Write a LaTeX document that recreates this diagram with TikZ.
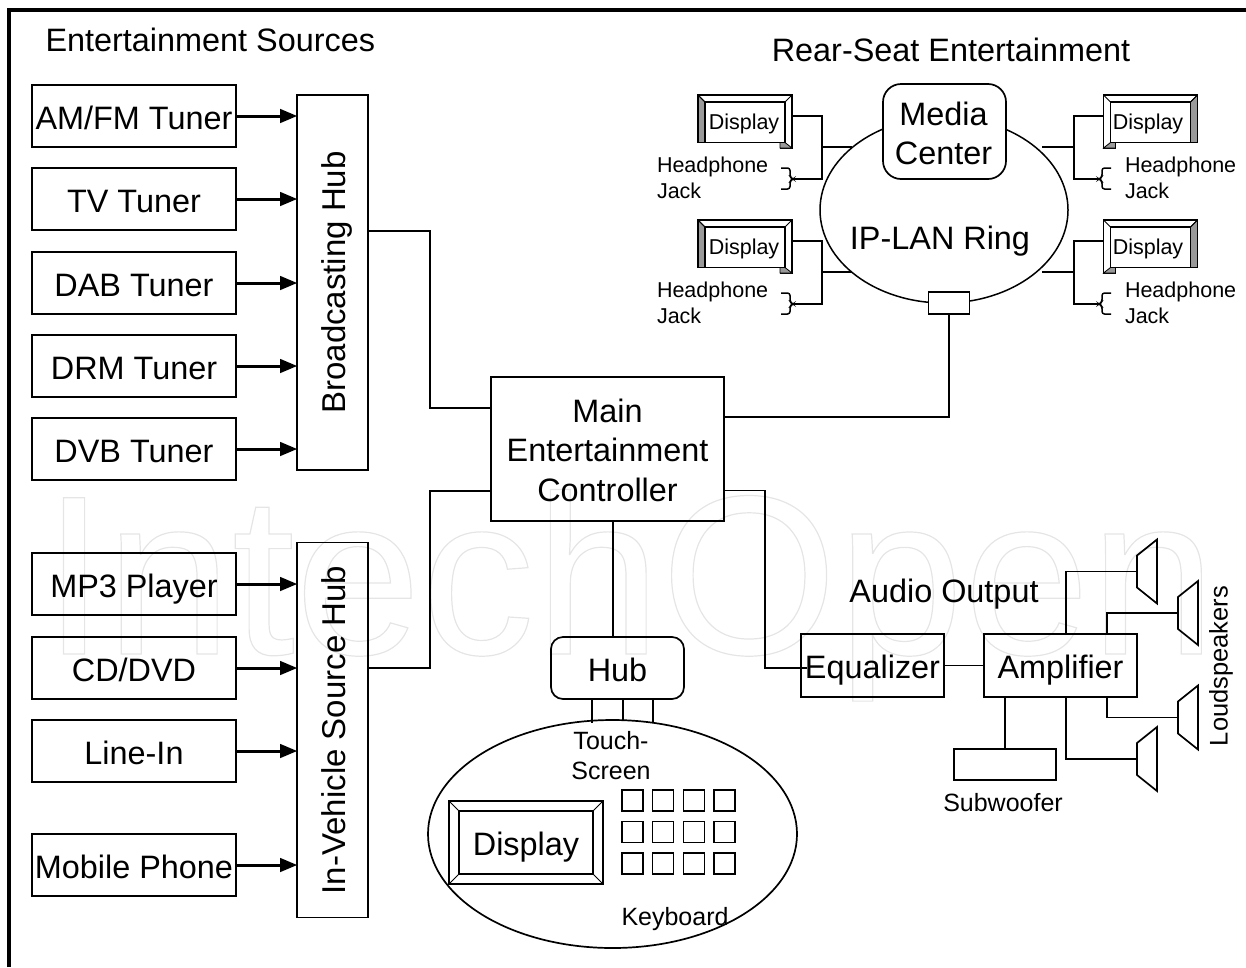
\documentclass[tikz,border=0pt]{standalone}
\usepackage{fontspec}
\setmainfont{Liberation Sans}
\usetikzlibrary{shapes,arrows}
\definecolor{bevelgray}{gray}{0.6}
\definecolor{markgray}{gray}{0.9}

% display with a shaded bevel, #4 = 1 or -1 to mirror it
\newcommand{\rsdisplay}[4]{
	\node [dispbox] (#1) at (#2,#3) {};
	\node [smalltext] (#1text) at (#2-1.75+0.75*#4,#3+2) {Display};
	\begin{scope}[shift={(#2,#3)},xscale=#4]
		\draw [fill=bevelgray, line width=0.8pt] (-47,-26.5) -- (-40,-19.5) -- (-40,21) -- (-47,21) -- cycle;
		\draw [line width=1.5pt] (-47,21) -- (-47,-26.5) -- (47,-26.5) -- (47,26.5) -- (35,26.5);
		\draw [fill=bevelgray, line width=0.8pt] (35,21) -- (40,21) -- (47,26.5) -- (35,26.5) -- cycle;
		\draw [line width=1.5pt] (-40,-19.5) rectangle (40,21);
		\draw [line width=1pt] (40,-19.5) -- (47,-26.5);
		\draw [line width=1pt] (-40,-19.5) -- (-47,-26.5);
	\end{scope}
}
% headphone jack bracket, #4 = 1 or -1 to mirror it
\newcommand{\rsjack}[4]{
	\coordinate (#1) at (#2+12*#4,#3);
	\draw [line width=1.5pt, rounded corners=2.5pt] (#2,#3-11) -- (#2+9*#4,#3-11) -- (#2+9*#4,#3-2) -- (#2+12*#4,#3) -- (#2+9*#4,#3+2) -- (#2+9*#4,#3+10) -- (#2,#3+10);
}
\newcommand{\rsspeaker}[3]{
	\coordinate (#1) at (#2,#3);
	\draw (#1) ++(0,-16) -- ++(20,-16) -- ++(0,64) -- ++(-20,-16) -- cycle;
}

\begin{document}
\begin{tikzpicture}
		[
		x = 1pt, y = -1pt,
		line width = 1.7pt,
		every node/.style = {inner sep = 0pt, outer sep = 0pt},
		bigtext/.style = {font = \fontsize{32.4}{39.5}\selectfont, align = center},
		boxtext/.style = {bigtext, text height = 26pt, text depth = 0pt},
		midtext/.style = {font = \fontsize{25}{30}\selectfont, align = center},
		smalltext/.style = {font = \fontsize{21.5}{26.5}\selectfont, align = left},
		srcbox/.style = {draw, boxtext, minimum width = 204pt, minimum height = 62pt},
		hubbox/.style = {draw, boxtext, font = \fontsize{33}{40}\selectfont, rotate = 90, minimum width = 375pt, minimum height = 71pt},
		dispbox/.style = {minimum width = 94pt, minimum height = 53pt},
		keybox/.style = {draw, line width = 1.5pt, minimum width = 21pt, minimum height = 21pt},
		srcarrow/.style = {-triangle 45, line width = 3pt},
		wire/.style = {line width = 1.4pt},
		]
		
		\useasboundingbox (0,0) rectangle (1246,967);
		
		\node [anchor = base west, font = \fontsize{227}{227}\selectfont, text = markgray] (watermark) at (42.5,654)
			{\special{pdf:code 1 Tr 1.2 w}IntechOpen\special{pdf:code 0 Tr}};
		
		\draw [line width = 4pt] (9,967) -- (9,10) -- (1246,10);
		
		\node [bigtext, anchor = west] (headsources) at (45.5,40) {Entertainment Sources};
		\node [bigtext] (headrear) at (951,50) {Rear-Seat Entertainment};
		\node [bigtext] (headaudio) at (944,594) {Audio Output};
		
		\node [srcbox] (amfm) at (134,116) {AM/FM Tuner};
		\node [srcbox] (tv) at (134,199) {TV Tuner};
		\node [srcbox] (dab) at (134,283) {DAB Tuner};
		\node [srcbox] (drm) at (134,366) {DRM Tuner};
		\node [srcbox] (dvb) at (134,449) {DVB Tuner};
		\node [srcbox] (mp3) at (134,584) {MP3 Player};
		\node [srcbox] (cddvd) at (134,668) {CD/DVD};
		\node [srcbox] (linein) at (134,751) {Line-In};
		\node [srcbox] (mobile) at (134,865) {Mobile Phone};
		
		\node [hubbox] (bchub) at (332.5,282.5) {Broadcasting Hub};
		\node [hubbox] (invhub) at (332.5,730) {In-Vehicle Source Hub};
		
		\foreach \src in {amfm,tv,dab,drm,dvb}
			\draw [srcarrow] (\src.east) -- (\src.east -| bchub.north);
		\foreach \src in {mp3,cddvd,linein,mobile}
			\draw [srcarrow] (\src.east) -- (\src.east -| invhub.north);
		
		\node [draw, minimum width = 233pt, minimum height = 144pt] (mainctrl) at (607.5,449) {};
		\node [bigtext] (mainlabel) at (607.5,450) {Main\\Entertainment\\Controller};
		
		\draw [wire] ([yshift = 51.5pt]bchub.south) -| (430,408) -- ([yshift = 41pt]mainctrl.west);
		\draw [wire] ([yshift = 62pt]invhub.south) -| (430,491) -- ([yshift = -42pt]mainctrl.west);
		
		% rear seat ring
		\node [draw, ellipse, line width = 1.5pt, minimum width = 248pt, minimum height = 186pt] (lanring) at (944,210) {};
		\node [draw, fill = white, rounded corners = 18pt, minimum width = 123pt, minimum height = 95pt] (media) at (944.5,131.5) {};
		\node [bigtext] (medialabel) at (943.5,133.5) {Media\\Center};
		\node [boxtext] (lanlabel) at (940,236.5) {IP-LAN Ring};
		\node [draw, fill = white, line width = 1.4pt, minimum width = 41pt, minimum height = 22pt] (lanport) at (949,303) {};
		\draw [wire] ([yshift = 32pt]mainctrl.east) -| (lanport.south);
		
		\rsdisplay{dispa}{745}{121.5}{1}
		\rsdisplay{dispb}{745}{246.5}{1}
		\rsdisplay{dispc}{1150.5}{121.5}{-1}
		\rsdisplay{dispd}{1150.5}{246.5}{-1}
		\rsjack{jacka}{781}{179}{1}
		\rsjack{jackb}{781}{304}{1}
		\rsjack{jackc}{1111}{179}{-1}
		\rsjack{jackd}{1111}{304}{-1}
		
		\node [smalltext, anchor = west] (phonea) at (657,178) {Headphone\\Jack};
		\node [smalltext, anchor = west] (phoneb) at (657,303) {Headphone\\Jack};
		\node [smalltext, anchor = west] (phonec) at (1125,178) {Headphone\\Jack};
		\node [smalltext, anchor = west] (phoned) at (1125,303) {Headphone\\Jack};
		
		\draw [wire] ([yshift = 5.5pt]dispa.east) -| (822,179) -- (jacka);
		\draw [wire] ([yshift = 5.5pt]dispb.east) -| (822,304) -- (jackb);
		\draw [wire] ([yshift = 5.5pt]dispc.west) -| (1074,179) -- (jackc);
		\draw [wire] ([yshift = 5.5pt]dispd.west) -| (1074,304) -- (jackd);
		\draw [wire] (822,147) -- (852,147);
		\draw [wire] (822,272) -- (852,272);
		\draw [wire] (1074,147) -- (1042,147);
		\draw [wire] (1074,272) -- (1042,272);
		
		% audio output
		\node [draw, boxtext, minimum width = 143pt, minimum height = 63pt] (equalizer) at (872.5,665.5) {Equalizer};
		\node [draw, boxtext, minimum width = 153pt, minimum height = 63pt] (amplifier) at (1060.5,665.5) {Amplifier};
		\node [draw, minimum width = 102pt, minimum height = 31pt] (subwoofer) at (1005,764.5) {};
		\node [midtext] (sublabel) at (1003,803) {Subwoofer};
		\node [midtext, font = \fontsize{25.5}{30}\selectfont, rotate = 90] (loudlabel) at (1221,666) {Loudspeakers};
		
		\rsspeaker{spka}{1137}{571.5}
		\rsspeaker{spkb}{1178}{613}
		\rsspeaker{spkc}{1178}{717.5}
		\rsspeaker{spkd}{1137}{759}
		
		\draw [wire] ([yshift = -41.5pt]mainctrl.east) -| (765,668) -- ([xshift = 6pt,yshift = -2.5pt]equalizer.west);
		\draw (equalizer) -- (amplifier);
		\draw ([xshift = -55.5pt]amplifier.south) -- (subwoofer.north);
		\draw ([xshift = 5.5pt]amplifier.north) |- (spka);
		\draw ([xshift = 46.5pt]amplifier.north) |- (spkb);
		\draw ([xshift = 46.5pt]amplifier.south) |- (spkc);
		\draw ([xshift = 5.5pt]amplifier.south) |- (spkd);
		
		% hub and touch screen
		\node [draw, boxtext, rounded corners = 12pt, minimum width = 133pt, minimum height = 62pt] (hub) at (617.5,668) {Hub};
		\node [draw, ellipse, minimum width = 369pt, minimum height = 228pt] (touch) at (612.5,834) {};
		\draw [wire] ([xshift = 5.5pt]mainctrl.south) -- ([xshift = -4.5pt]hub.north);
		\draw [wire] ([xshift = -25.5pt]hub.south) -- ([xshift = -25.5pt,yshift = -3pt]hub.south |- touch.north);
		\draw [wire] ([xshift = 5.5pt]hub.south) -- ([xshift = 5.5pt]hub.south |- touch.north);
		\draw [wire] ([xshift = 35.5pt]hub.south) -- ([xshift = 35.5pt,yshift = -2pt]hub.south |- touch.north);
		\node [midtext] (touchlabel) at (611,756) {Touch-\\Screen};
		\node [midtext] (keylabel) at (675,919.5) {Keyboard};
		
		\node [draw, boxtext, minimum width = 154pt, minimum height = 83pt] (bigdisp) at (526,842.5) {Display};
		\draw (459,811) rectangle (593,874);
		\draw [line width = 1pt] (449,801) -- (459,811);
		\draw [line width = 1pt] (603,801) -- (593,811);
		\draw [line width = 1pt] (449,884) -- (459,874);
		\draw [line width = 1pt] (603,884) -- (593,874);
		
		\foreach \kx [count = \ci] in {632.5,663,694,724.5}
			\foreach \ky [count = \cj] in {800.5,832,863.5}
				\node [keybox] (key\ci\cj) at (\kx,\ky) {};
		
		\end{tikzpicture}
\end{document}
